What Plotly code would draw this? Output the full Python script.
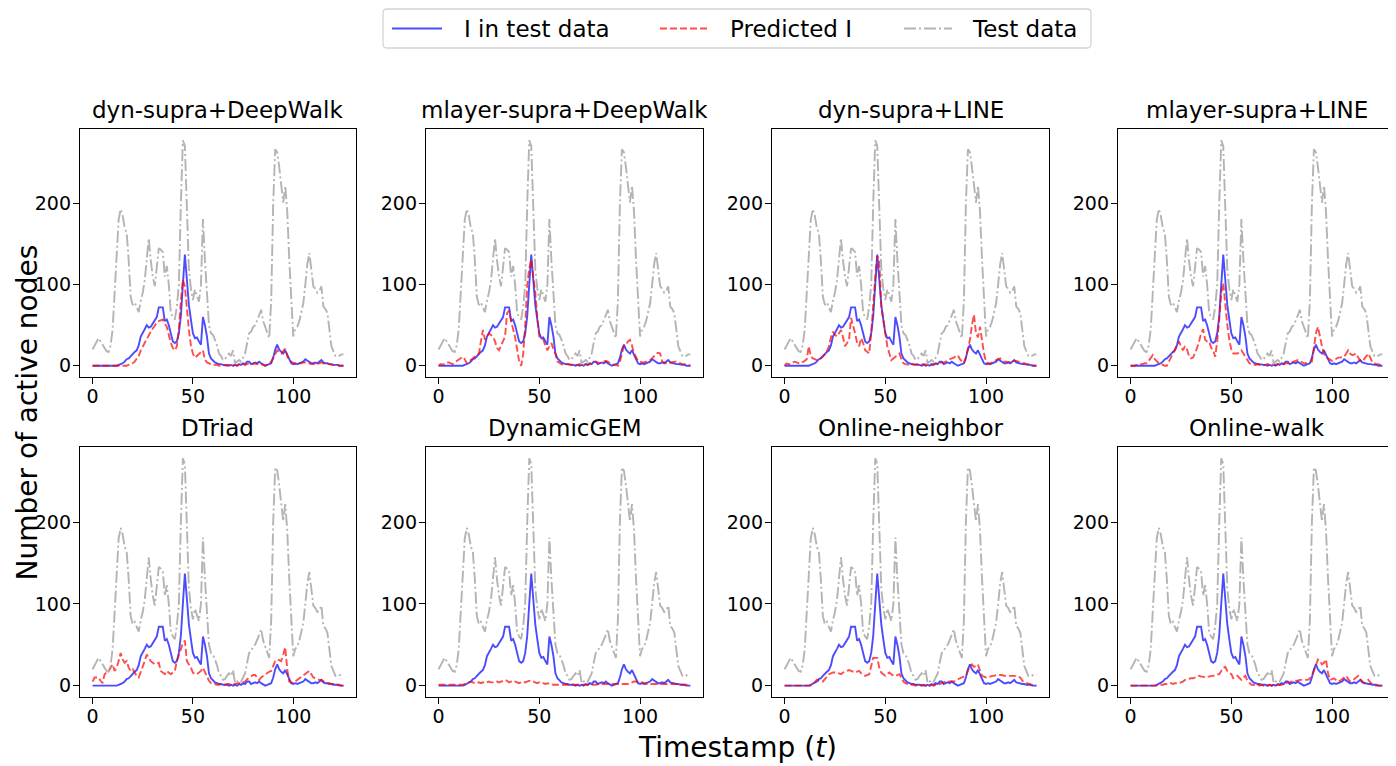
import plotly.graph_objects as go

timestamps = list(range(126))

test_data = [
    20, 25, 30, 34, 30, 25, 22, 18, 17, 25,
    45, 90, 140, 180, 193, 185, 170, 164, 130, 85,
    75, 78, 72, 66, 80, 90, 105, 130, 157, 130,
    110, 98, 120, 145, 143, 140, 110, 123, 100, 65,
    60, 57, 73, 100, 200, 278, 271, 200, 119, 95,
    81, 94, 85, 79, 100, 181, 130, 81, 50, 40,
    38, 32, 25, 15, 12, 7, 8, 12, 15, 12,
    19, 3, 5, 7, 5, 10, 15, 28, 40, 42,
    48, 50, 55, 62, 69, 55, 48, 40, 34, 80,
    200, 267, 263, 245, 220, 201, 222, 190, 131, 80,
    36, 45, 48, 55, 65, 77, 100, 125, 139, 120,
    98, 95, 90, 92, 98, 73, 70, 65, 45, 24,
    18, 12, 11, 13, 14, 14,
]

infected_test = [
    0, 0, 0, 0, 0, 0, 0, 0, 0, 0,
    0, 0, 0, 1, 2, 3, 5, 8, 9, 12,
    15, 17, 19, 25, 36, 40, 45, 50, 47, 48,
    52, 55, 60, 72, 72, 72, 55, 57, 50, 40,
    30, 28, 30, 40, 61, 100, 137, 106, 75, 57,
    40, 34, 35, 30, 26, 60, 50, 36, 15, 9,
    6, 4, 3, 2, 2, 1, 1, 1, 0, 1,
    0, 1, 0, 2, 1, 3, 2, 5, 5, 2,
    3, 4, 3, 5, 3, 1, 0, 1, 2, 3,
    10, 20, 26, 20, 17, 15, 19, 13, 7, 3,
    2, 3, 2, 3, 4, 5, 8, 6, 4, 3,
    3, 4, 3, 5, 7, 4, 3, 3, 2, 2,
    1, 1, 1, 0, 0, 0,
]

pred_dyn_supra_deepwalk = [
    0, 0, 0, 0, 0, 0, 0, 0, 0, 0,
    0, 0, 0, 0, 0, 0, 0, 0, 1, 2,
    3, 5, 8, 12, 19, 24, 28, 32, 37, 42,
    46, 50, 53, 55, 56, 57, 52, 48, 38, 28,
    22, 19, 24, 45, 80, 106, 98, 70, 44, 25,
    15, 10, 12, 15, 17, 19, 7, 4, 3, 2,
    1, 1, 1, 0, 0, 1, 0, 0, 1, 0,
    0, 1, 0, 1, 1, 2, 1, 2, 3, 2,
    2, 3, 2, 3, 2, 1, 0, 1, 2, 5,
    10, 15, 19, 16, 15, 18, 21, 12, 6, 5,
    3, 2, 2, 3, 3, 4, 4, 3, 3, 2,
    2, 3, 2, 3, 4, 3, 2, 2, 2, 1,
    1, 1, 1, 0, 0, 0,
]

pred_mlayer_supra_deepwalk = [
    0, 2, 1, 3, 4, 4, 3, 2, 4, 6,
    7, 9, 11, 8, 3, 5, 7, 9, 10, 12,
    15, 30, 44, 32, 36, 40, 38, 36, 30, 22,
    19, 24, 30, 36, 65, 68, 55, 45, 35, 20,
    5, 0, 15, 50, 100, 120, 131, 110, 90, 60,
    36, 34, 32, 25, 19, 24, 28, 20, 15, 5,
    3, 2, 1, 1, 2, 1, 1, 2, 1, 1,
    2, 1, 1, 2, 1, 2, 3, 4, 5, 4,
    3, 4, 5, 6, 5, 3, 2, 1, 1, 0,
    5, 15, 24, 26, 30, 32, 25, 15, 10, 6,
    5, 4, 4, 5, 6, 7, 9, 12, 15, 16,
    15, 5, 4, 3, 3, 4, 4, 5, 5, 4,
    3, 2, 2, 1, 1, 0,
]

pred_dyn_supra_line = [
    0, 3, 2, 2, 4, 5, 4, 3, 3, 4,
    6, 8, 24, 12, 9, 8, 7, 7, 9, 11,
    14, 18, 24, 35, 42, 38, 36, 40, 44, 35,
    24, 28, 32, 59, 50, 40, 28, 24, 34, 28,
    19, 17, 15, 40, 81, 110, 135, 131, 73, 55,
    40, 24, 15, 7, 9, 11, 13, 15, 8, 3,
    2, 1, 1, 2, 1, 1, 2, 1, 1, 2,
    1, 1, 2, 1, 2, 2, 3, 3, 4, 4,
    5, 6, 8, 9, 10, 12, 13, 8, 5, 3,
    10, 20, 32, 50, 63, 40, 35, 48, 30, 15,
    5, 2, 3, 4, 5, 7, 8, 9, 7, 5,
    5, 4, 5, 5, 6, 6, 5, 4, 3, 3,
    2, 2, 1, 1, 0, 0,
]

pred_mlayer_supra_line = [
    0, 0, 0, 1, 1, 2, 2, 3, 3, 6,
    10, 13, 8, 5, 3, 2, 1, 0, 0, 5,
    10, 15, 20, 26, 30, 24, 19, 24, 20, 12,
    9, 10, 15, 22, 30, 40, 45, 32, 30, 30,
    22, 19, 11, 30, 57, 90, 102, 73, 50, 32,
    20, 15, 15, 15, 17, 19, 15, 11, 6, 3,
    2, 1, 1, 2, 1, 2, 1, 1, 2, 1,
    1, 2, 1, 2, 2, 3, 2, 3, 3, 4,
    4, 5, 6, 7, 6, 4, 3, 3, 4, 5,
    5, 20, 40, 48, 35, 24, 15, 10, 9, 7,
    6, 7, 9, 10, 10, 11, 11, 15, 19, 15,
    13, 14, 15, 10, 6, 5, 8, 12, 15, 10,
    4, 3, 2, 2, 1, 1,
]

pred_dtriad = [
    5, 10, 10, 10, 6, 3, 14, 16, 18, 22,
    26, 18, 22, 30, 40, 32, 28, 30, 22, 18,
    20, 16, 12, 10, 16, 22, 30, 38, 34, 30,
    28, 26, 27, 28, 18, 16, 14, 18, 16, 14,
    16, 18, 30, 38, 47, 52, 55, 30, 26, 22,
    16, 14, 14, 16, 18, 22, 16, 12, 6, 3,
    2, 2, 1, 1, 2, 1, 1, 2, 2, 1,
    2, 2, 3, 3, 3, 4, 5, 8, 10, 12,
    13, 13, 10, 7, 10, 12, 14, 15, 17, 18,
    25, 30, 32, 31, 30, 38, 47, 20, 5, 4,
    3, 5, 7, 9, 10, 12, 15, 17, 18, 14,
    10, 9, 8, 7, 7, 5, 4, 3, 3, 2,
    2, 1, 1, 1, 0, 0,
]

pred_dynamicgem = [
    1, 1, 1, 1, 1, 1, 1, 1, 1, 1,
    1, 1, 1, 2, 3, 4, 5, 4, 3, 3,
    4, 3, 4, 3, 4, 5, 4, 4, 5, 5,
    4, 5, 6, 7, 6, 4, 5, 4, 5, 4,
    3, 4, 5, 4, 5, 6, 5, 5, 4, 3,
    4, 3, 3, 2, 3, 2, 2, 1, 1, 1,
    1, 1, 1, 1, 1, 1, 1, 1, 1, 1,
    1, 1, 1, 1, 1, 1, 1, 1, 1, 2,
    2, 2, 2, 2, 2, 2, 2, 2, 2, 2,
    2, 2, 2, 2, 2, 3, 4, 5, 5, 4,
    3, 4, 3, 2, 2, 2, 2, 2, 2, 2,
    2, 2, 2, 2, 2, 2, 2, 2, 2, 2,
    2, 1, 1, 1, 1, 1,
]

pred_online_neighbor = [
    0, 0, 0, 0, 0, 0, 0, 0, 0, 0,
    0, 0, 0, 0, 2, 5, 7, 6, 5, 5,
    8, 11, 14, 15, 16, 16, 16, 15, 14, 16,
    17, 18, 19, 18, 17, 16, 17, 18, 15, 13,
    12, 13, 14, 24, 34, 34, 34, 22, 16, 14,
    12, 14, 16, 14, 12, 12, 13, 14, 10, 5,
    3, 2, 1, 1, 1, 0, 1, 0, 1, 0,
    0, 1, 0, 1, 0, 1, 1, 2, 3, 4,
    5, 5, 5, 5, 5, 6, 8, 9, 10, 11,
    12, 18, 24, 26, 23, 24, 26, 18, 12, 11,
    10, 10, 11, 12, 12, 13, 13, 13, 13, 12,
    12, 12, 12, 12, 12, 11, 11, 10, 6, 4,
    3, 2, 1, 0, 0, 0,
]

pred_online_walk = [
    0, 0, 0, 0, 0, 0, 0, 0, 0, 0,
    0, 0, 0, 0, 0, 1, 1, 2, 2, 3,
    3, 2, 3, 3, 3, 4, 5, 7, 8, 8,
    9, 9, 10, 11, 12, 11, 11, 10, 11, 11,
    12, 12, 13, 14, 14, 18, 22, 23, 18, 16,
    14, 9, 10, 12, 10, 7, 10, 12, 6, 3,
    1, 1, 0, 1, 0, 1, 0, 1, 0, 1,
    0, 1, 0, 1, 1, 1, 2, 3, 4, 4,
    5, 5, 6, 6, 7, 7, 7, 7, 7, 9,
    12, 18, 25, 32, 30, 26, 28, 32, 15, 7,
    8, 9, 7, 5, 6, 8, 10, 12, 8, 5,
    6, 8, 9, 12, 8, 5, 3, 5, 7, 4,
    1, 0, 0, 0, 0, 0,
]

panel_titles = [
    "dyn-supra+DeepWalk", "mlayer-supra+DeepWalk", "dyn-supra+LINE", "mlayer-supra+LINE",
    "DTriad", "DynamicGEM", "Online-neighbor", "Online-walk",
]
predictions = [
    pred_dyn_supra_deepwalk, pred_mlayer_supra_deepwalk, pred_dyn_supra_line,
    pred_mlayer_supra_line, pred_dtriad, pred_dynamicgem, pred_online_neighbor,
    pred_online_walk,
]
series_names = ["I in test data", "Predicted I", "Test data"]
x_ticks = [0, 50, 100]
y_ticks = [0, 100, 200]

# ---- geometry: the page body has an 8px margin, so the figure is drawn in
# page coordinates shifted by OFF ----
OFF = 8
W, H = 1396 - OFF, 766 - OFF


def px(xp):
    return (xp - OFF) / W


def py(yp):
    return 1 - (yp - OFF) / H


col_px = [(80, 356), (426, 703), (772, 1049), (1118, 1395)]
row_px = [(129, 377), (447, 697)]
title_y_px = [110, 428]

FONT = "DejaVu Sans"
BLUE = "rgba(0,0,255,0.7)"
RED = "rgba(255,0,0,0.7)"
GRAY = "rgb(180,180,180)"
LW = 1.9
DASH_RED = "7px,3px"
DASH_GRAY = "12px,3px,2px,3px"
styles = [
    dict(color=BLUE, width=LW),
    dict(color=RED, width=LW, dash=DASH_RED),
    dict(color=GRAY, width=LW, dash=DASH_GRAY),
]

fig = go.Figure()
layout = dict(
    width=W, height=H, margin=dict(l=0, r=0, t=0, b=0),
    paper_bgcolor="white", plot_bgcolor="white",
    font=dict(family=FONT, color="black", size=19),
    showlegend=False,
)
annotations = []
shapes = []

for i, (title, pred) in enumerate(zip(panel_titles, predictions)):
    r, c = divmod(i, 4)
    ax = "" if i == 0 else str(i + 1)
    xref, yref = "x" + ax, "y" + ax
    for name, ys, st in zip(series_names, [infected_test, pred, test_data], styles):
        fig.add_trace(go.Scatter(
            x=timestamps, y=ys, mode="lines", name=name, line=st,
            xaxis=xref, yaxis=yref))

    x0, x1 = col_px[c]
    y0, y1 = row_px[r]
    axis_common = dict(
        showline=True, mirror=True, linecolor="black", linewidth=1.3,
        ticks="outside", ticklen=6, tickwidth=1.3, tickcolor="black",
        showgrid=False, zeroline=False, tickfont=dict(size=19, family=FONT),
    )
    layout["xaxis" + ax] = dict(
        domain=[px(x0), px(x1)], range=[-6.25, 131.25], tickvals=x_ticks,
        anchor=yref, ticklabelstandoff=-4, **axis_common)
    layout["yaxis" + ax] = dict(
        domain=[py(y1), py(y0)], range=[-13.9, 291.9], tickvals=y_ticks,
        anchor=xref, ticklabelstandoff=-2, **axis_common)
    annotations.append(dict(
        text=title, x=px((x0 + x1) / 2), y=py(title_y_px[r]),
        xref="paper", yref="paper", xanchor="center", yanchor="middle",
        showarrow=False, font=dict(size=23, family=FONT)))

annotations.append(dict(
    text="Number of active nodes", x=0, y=py(413), xref="paper", yref="paper",
    xanchor="left", yanchor="middle", textangle=-90, showarrow=False,
    font=dict(size=28, family=FONT)))
annotations.append(dict(
    text="Timestamp (<i>t</i>)", x=px(737.5), y=py(747), xref="paper", yref="paper",
    xanchor="center", yanchor="middle", showarrow=False,
    font=dict(size=28, family=FONT)))

# ---- legend box (drawn like matplotlib's framed legend) ----
lx0, lx1, ly0, ly1, rad = 383, 1091, 9, 48, 4
path = (
    f"M {px(lx0 + rad)},{py(ly0)} L {px(lx1 - rad)},{py(ly0)} "
    f"Q {px(lx1)},{py(ly0)} {px(lx1)},{py(ly0 + rad)} L {px(lx1)},{py(ly1 - rad)} "
    f"Q {px(lx1)},{py(ly1)} {px(lx1 - rad)},{py(ly1)} L {px(lx0 + rad)},{py(ly1)} "
    f"Q {px(lx0)},{py(ly1)} {px(lx0)},{py(ly1 - rad)} L {px(lx0)},{py(ly0 + rad)} "
    f"Q {px(lx0)},{py(ly0)} {px(lx0 + rad)},{py(ly0)} Z"
)
shapes.append(dict(type="path", path=path, xref="paper", yref="paper",
                   line=dict(color="#d4d4d4", width=1.3), fillcolor="white",
                   layer="above"))
ly = (ly0 + ly1) / 2
handles = [(392, 442, 462), (660, 707, 728), (904, 952, 970)]
for (hx0, hx1, tx), name, st in zip(handles, series_names, styles):
    shapes.append(dict(type="line", xref="paper", yref="paper",
                       x0=px(hx0), x1=px(hx1), y0=py(ly), y1=py(ly),
                       line=st, layer="above"))
    annotations.append(dict(
        text=name, x=px(tx), y=py(ly), xref="paper", yref="paper",
        xanchor="left", yanchor="middle", showarrow=False,
        font=dict(size=23, family=FONT)))

layout["annotations"] = annotations
layout["shapes"] = shapes
fig.update_layout(**layout)
fig.write_html("out.html")
